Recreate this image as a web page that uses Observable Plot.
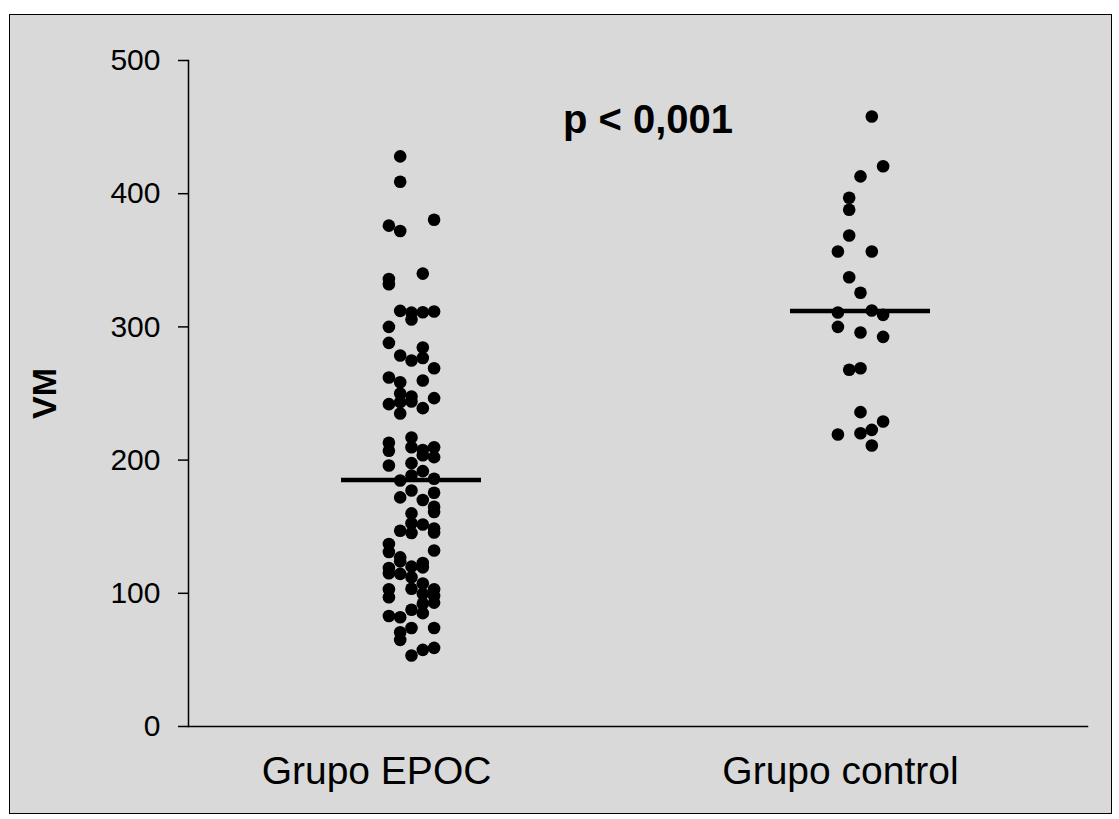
<!DOCTYPE html>
<html>
<head>
<meta charset="utf-8">
<script src="https://cdn.jsdelivr.net/npm/d3@7"></script>
<script src="https://cdn.jsdelivr.net/npm/@observablehq/plot@0.6"></script>
<style>
  html, body { margin: 0; padding: 0; background: #ffffff; }
  #wrap { position: relative; width: 1119px; height: 819px; }
  #panel { position: absolute; left: 9px; top: 14px; width: 1101px; height: 798px;
           background: #d9d9d9; border: 1px solid #000; }
  #chart { position: absolute; left: 0; top: 0; }
  #chart svg { background: transparent; }
</style>
</head>
<body>
<div id="wrap"><div id="panel"></div><div id="chart"></div></div>
<script>
const groups = ["Grupo EPOC", "Grupo control"];

// EPOC group: values and their column (-2..2) in the scatter
const epocValues = [
  376, 336, 332, 300, 288, 262, 242, 213, 207, 196, 137, 131, 119, 115, 103, 97, 83,
  428, 409, 372, 312, 278.5, 258.5, 250, 243.5, 235, 184.7, 172, 147, 127, 124, 114.6, 82, 70.7, 65,
  310.7, 305.5, 274.8, 247.7, 244, 217, 209.7, 197.7, 188.4, 177.2, 160, 152.6, 145.3, 120, 112, 103.4, 87.6, 74, 53.3,
  340, 311, 284.5, 276.7, 259.8, 239, 207.6, 203.6, 191.7, 170, 151.7, 122.7, 119.5, 107.4, 99.6, 92.1, 85.1, 57.5,
  380.4, 311.6, 269, 246.5, 209.7, 202.2, 186, 175.5, 165, 161, 148.6, 145.6, 132.1, 103, 98, 93, 74, 59
];
const epocCols = [
  -2, -2, -2, -2, -2, -2, -2, -2, -2, -2, -2, -2, -2, -2, -2, -2, -2,
  -1, -1, -1, -1, -1, -1, -1, -1, -1, -1, -1, -1, -1, -1, -1, -1, -1, -1,
  0, 0, 0, 0, 0, 0, 0, 0, 0, 0, 0, 0, 0, 0, 0, 0, 0, 0, 0,
  1, 1, 1, 1, 1, 1, 1, 1, 1, 1, 1, 1, 1, 1, 1, 1, 1, 1,
  2, 2, 2, 2, 2, 2, 2, 2, 2, 2, 2, 2, 2, 2, 2, 2, 2, 2
];

// Control group
const controlValues = [458, 420.6, 413, 397, 388, 368.6, 356.6, 356.6, 337.3, 325.6, 310.8, 312.3,
  309, 300, 295.8, 292.5, 267.8, 269, 236, 229, 219.2, 220.2, 222.7, 211];
const controlCols = [1, 2, 0, -1, -1, -1, -2, 1, -1, 0, -2, 1,
  2, -2, 0, 2, -1, 0, 0, 2, -2, 0, 1, 1];

const groupMeans = [185, 312];
const yTicks = [0, 100, 200, 300, 400, 500];
const yLabel = "VM";
const annotation = "p < 0,001";

const rows = [
  ...epocValues.map((v, i) => ({group: groups[0], value: v, col: epocCols[i]})),
  ...controlValues.map((v, i) => ({group: groups[1], value: v, col: controlCols[i]}))
];
const meanRows = groups.map((g, i) => ({group: g, value: groupMeans[i]}));
const cols = [-2, -1, 0, 1, 2];
const colStep = 11.3;
const labelShift = [-35, -20];
const font = "'Liberation Sans', Arial, sans-serif";

const chart = Plot.plot({
  width: 1119,
  height: 819,
  marginLeft: 188,
  marginRight: 32,
  marginTop: 60,
  marginBottom: 93,
  style: {background: "transparent", fontFamily: font, color: "#000"},
  x: {type: "band", domain: groups, paddingInner: 0.6882, paddingOuter: 0.3452, align: 0.495, label: null, axis: null},
  y: {domain: [0, 500], label: null},
  marks: [
    Plot.frame({anchor: "left", stroke: "#000", strokeWidth: 1.5}),
    Plot.frame({anchor: "bottom", stroke: "#000", strokeWidth: 1.5}),
    Plot.axisY({ticks: yTicks, tickSize: 10, tickPadding: 18, fontSize: 30, label: null, strokeWidth: 1.5}),
    ...groups.map((g, i) => Plot.text([g], {
      x: d => d, frameAnchor: "bottom", lineAnchor: "top", dy: 30, dx: labelShift[i],
      fontSize: 39, fill: "#000"
    })),
    ...cols.map(c => Plot.dot(rows.filter(d => d.col === c), {
      x: "group", y: "value", r: 6.3, fill: "#000", stroke: "none", dx: c * colStep
    })),
    Plot.tickY(meanRows, {x: "group", y: "value", stroke: "#000", strokeWidth: 4.5}),
    Plot.text([annotation], {frameAnchor: "top", dx: 10, dy: 44, fontSize: 40, fontWeight: "bold", fill: "#000"}),
    Plot.text([yLabel], {frameAnchor: "left", textAnchor: "middle", rotate: -90, dx: -143, fontSize: 34, fontWeight: "bold", fill: "#000"})
  ]
});
document.getElementById("chart").appendChild(chart);
</script>
</body>
</html>
